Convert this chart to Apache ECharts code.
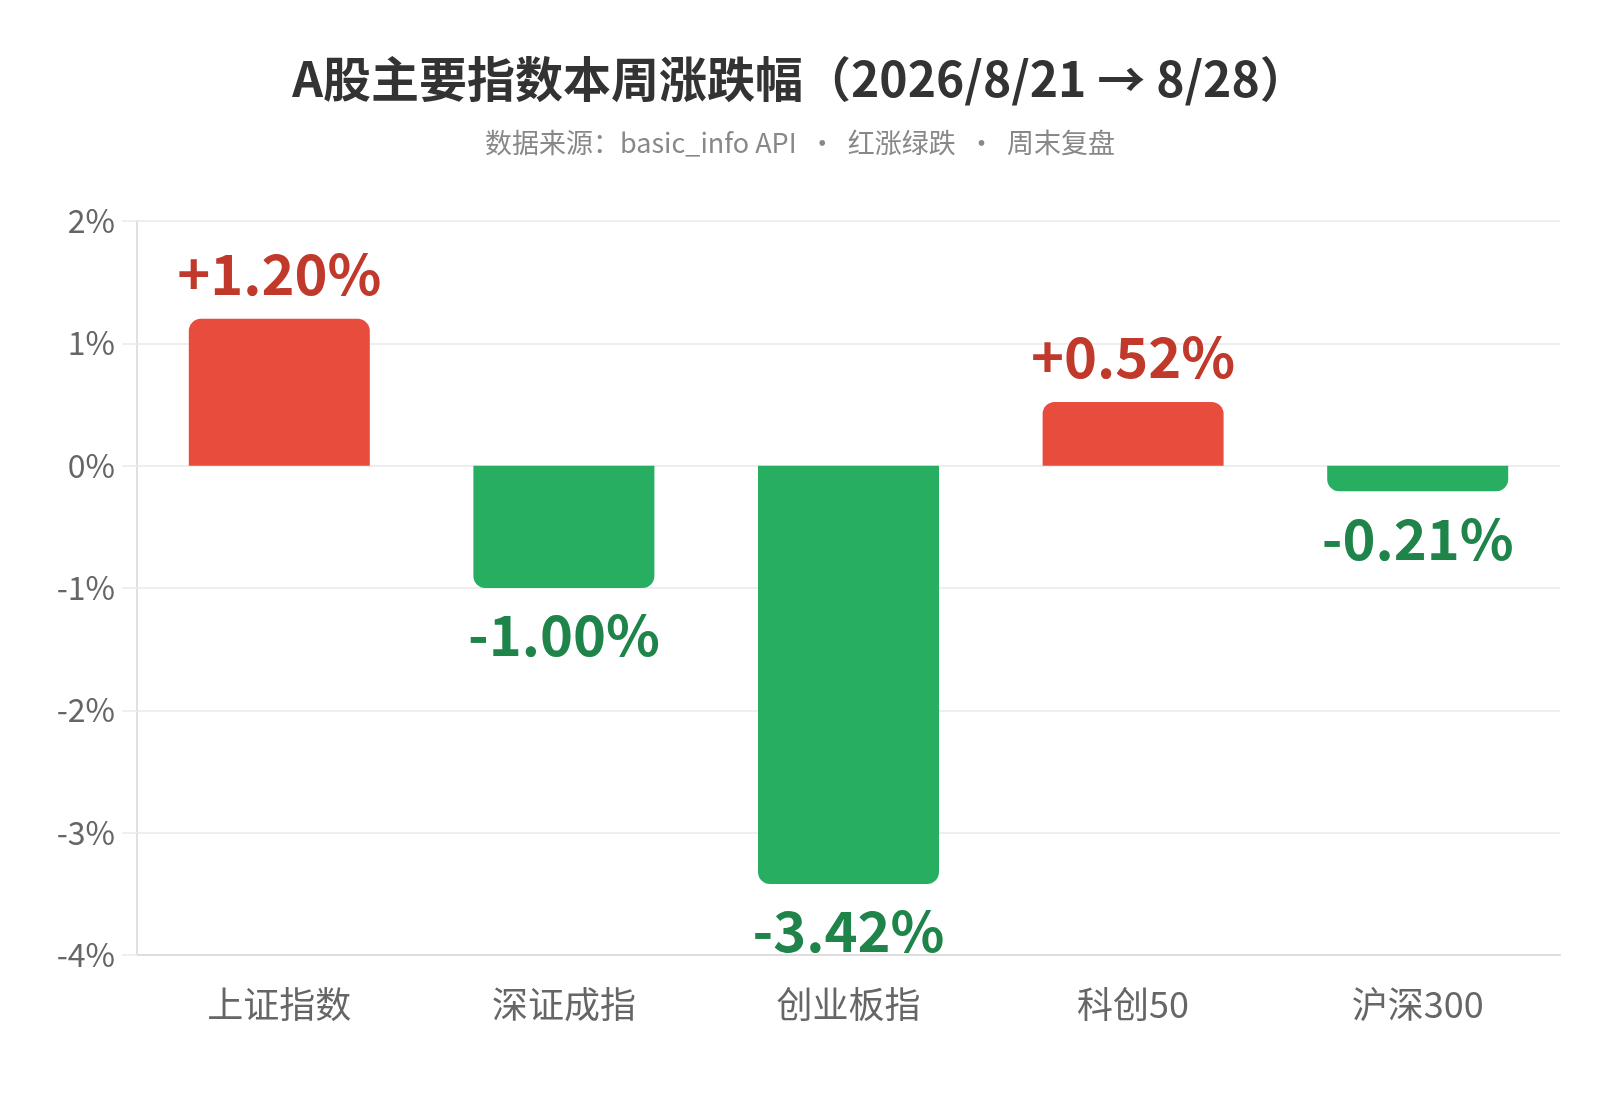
<!DOCTYPE html>
<html>
<head>
<meta charset="utf-8">
<script src="https://cdn.jsdelivr.net/npm/echarts@6/dist/echarts.min.js"></script>
<style>
html,body{margin:0;padding:0;background:#fff;}
#chart{width:1600px;height:1120px;}
</style>
</head>
<body>
<div id="chart"></div>
<script>
const categories = ['上证指数', '深证成指', '创业板指', '科创50', '沪深300'];
const changes = [1.20, -1.00, -3.42, 0.52, -0.21];
const yTicks = [-4, -3, -2, -1, 0, 1, 2];

const FONT = '"Noto Sans CJK SC", "Noto Sans", sans-serif';
const UP_BAR = '#e74c3c', UP_TEXT = '#c0392b';
const DOWN_BAR = '#27ae60', DOWN_TEXT = '#1e8449';

const chart = echarts.init(document.getElementById('chart'));
chart.setOption({
  backgroundColor: '#fff',
  title: {
    text: 'A股主要指数本周涨跌幅（2026/8/21 → 8/28）',
    subtext: '数据来源：basic_info API  ·  红涨绿跌  ·  周末复盘',
    left: 'center',
    top: 50,
    itemGap: 26,
    textStyle: { fontFamily: FONT, fontSize: 48, fontWeight: 'bold', color: '#333' },
    subtextStyle: { fontFamily: FONT, fontSize: 27, color: '#888' }
  },
  grid: { left: 137, right: 40, top: 221, bottom: 165 },
  xAxis: {
    type: 'category',
    data: categories,
    axisLine: { show: true, onZero: false, lineStyle: { color: '#ddd', width: 2 } },
    axisTick: { show: false },
    axisLabel: { fontFamily: FONT, fontSize: 36, color: '#666', margin: 31 }
  },
  yAxis: {
    type: 'value',
    min: yTicks[0],
    max: yTicks[yTicks.length - 1],
    interval: 1,
    axisLine: { show: true, lineStyle: { color: '#e0e0e0', width: 2 } },
    axisTick: { show: true, length: 15, lineStyle: { color: '#eee', width: 2 } },
    splitLine: { show: true, lineStyle: { color: '#eee', width: 2 } },
    axisLabel: {
      fontFamily: FONT, fontSize: 32, color: '#666', margin: 22,
      formatter: v => v + '%'
    }
  },
  series: [{
    type: 'bar',
    barWidth: '63.6%',
    data: changes.map(v => ({
      value: v,
      itemStyle: {
        color: v >= 0 ? UP_BAR : DOWN_BAR,
        borderRadius: v >= 0 ? [12, 12, 0, 0] : [0, 0, 12, 12]
      },
      label: {
        show: true,
        position: v >= 0 ? 'top' : 'bottom',
        distance: v >= 0 ? 17 : 19,
        color: v >= 0 ? UP_TEXT : DOWN_TEXT,
        fontFamily: FONT,
        fontSize: 56,
        fontWeight: 'bold',
        formatter: (v >= 0 ? '+' : '') + v.toFixed(2) + '%'
      }
    }))
  }]
});
</script>
</body>
</html>
